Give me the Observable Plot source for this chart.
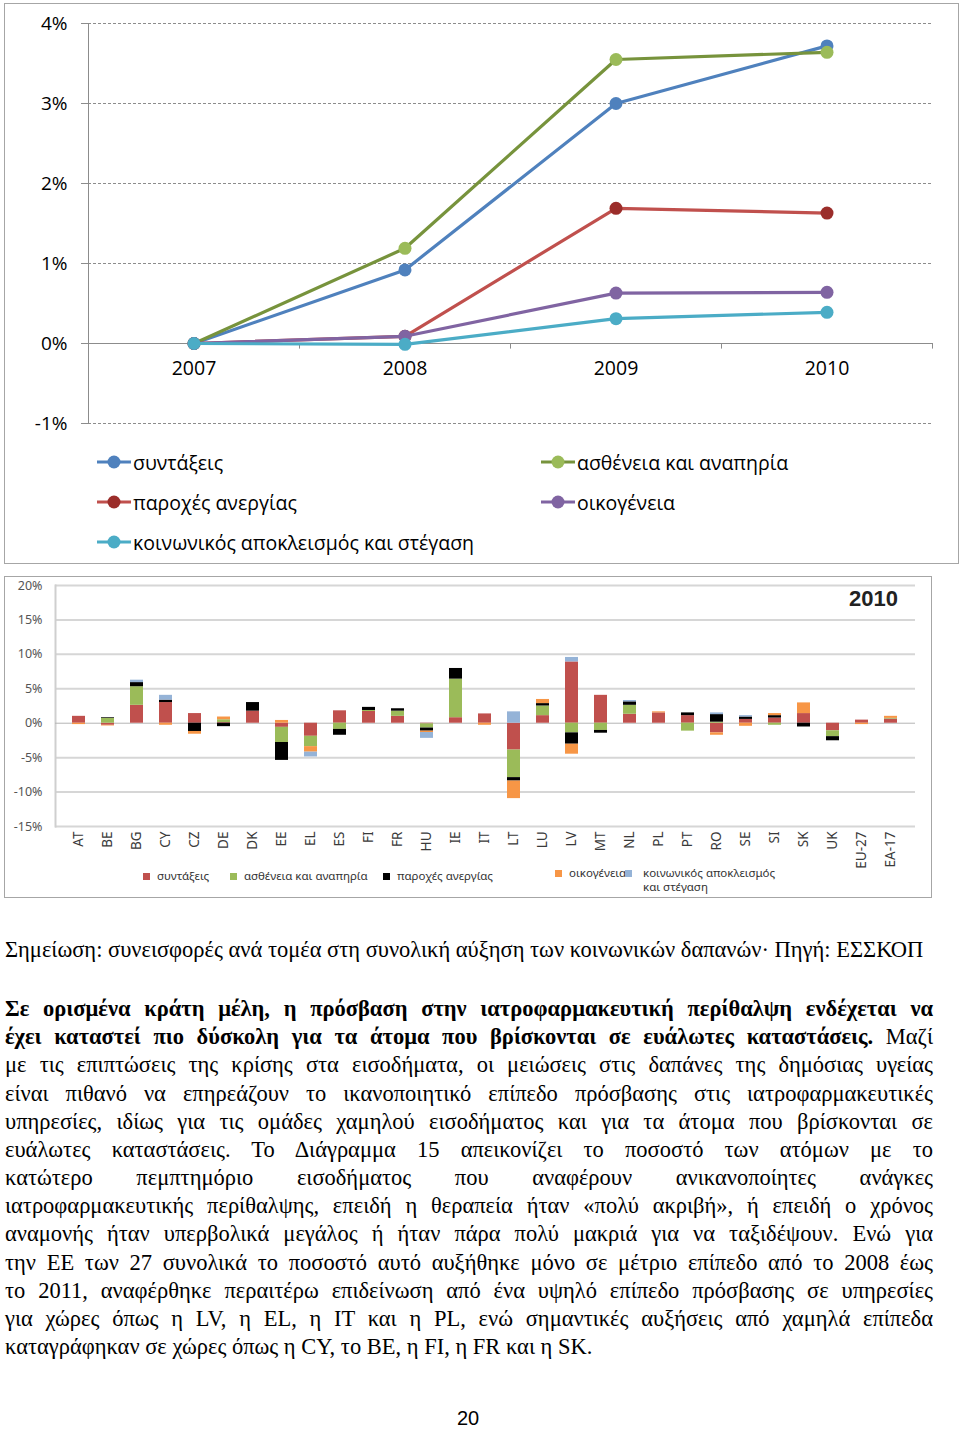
<!DOCTYPE html>
<html><head><meta charset="utf-8">
<script src="https://cdn.jsdelivr.net/npm/d3@7"></script>
<script src="https://cdn.jsdelivr.net/npm/@observablehq/plot@0.6"></script>
<style>
body{margin:0;background:#fff;}
#page{position:relative;width:960px;height:1432px;overflow:hidden;font-family:"Open Sans",sans-serif;color:#000;}
.abs{position:absolute;}
.box{position:absolute;border:1.5px solid #a6a6a6;box-sizing:border-box;}
.leg1{position:absolute;display:flex;align-items:center;font-size:19.5px;white-space:nowrap;}
.leg2{position:absolute;display:flex;align-items:flex-start;font-size:11.5px;color:#333;font-family:"Noto Sans",sans-serif;line-height:14px;}
.leg2 span.sw{display:inline-block;width:7px;height:7px;margin:4px 7px 0 0;}
.tl{position:absolute;left:5px;width:928px;font-family:"Liberation Serif","Times New Roman",serif;font-size:22.5px;line-height:28.2px;text-align:justify;text-align-last:justify;}
.tl.last{text-align-last:left;}
</style></head><body><div id="page">
<div class="box" style="left:4px;top:3px;width:955px;height:561px;"></div>
<div class="box" style="left:4px;top:576px;width:928px;height:322px;"></div>
<div id="chart1" class="abs" style="left:0;top:0;"></div>
<div id="legend1"></div>
<div id="chart2" class="abs" style="left:0;top:576px;"></div>
<div class="abs" style="left:849px;top:586px;font-family:'Liberation Sans',sans-serif;font-weight:bold;font-size:22px;color:#222;">2010</div>
<div id="legend2"></div>
<div id="note" class="abs" style="left:5px;top:937px;font-family:'Liberation Serif',serif;font-size:22.5px;white-space:nowrap;"></div>
<div id="text"></div>
<div class="abs" style="left:457px;top:1407px;font-family:'Liberation Sans Narrow','Liberation Sans',sans-serif;font-size:20px;">20</div>
</div>
<script>
// ---------- Chart 1 data ----------
const years = [2007, 2008, 2009, 2010];
const seriesNames = ["συντάξεις", "ασθένεια και αναπηρία", "παροχές ανεργίας", "οικογένεια", "κοινωνικός αποκλεισμός και στέγαση"];
const pensions     = [0, 0.92, 3.00, 3.72];
const sickness     = [0, 1.19, 3.55, 3.64];
const unemployment = [0, 0.09, 1.69, 1.63];
const family       = [0, 0.09, 0.63, 0.64];
const exclusion    = [0, -0.01, 0.31, 0.39];
const lineColors   = ["#4F81BD", "#77933C", "#C0504D", "#8064A2", "#4BACC6"];
const markerColors = ["#4F81BD", "#9BBB59", "#9B2D2A", "#8064A2", "#4BACC6"];
const yTicks = [-1, 0, 1, 2, 3, 4];
const yearBounds = [2007.5, 2008.5, 2009.5, 2010.5];

const allValues = [pensions, sickness, unemployment, family, exclusion];
const seriesList = seriesNames.map((name, i) => ({
  name, line: lineColors[i], marker: markerColors[i],
  rows: years.map((year, j) => ({year, value: allValues[i][j], series: name, line: lineColors[i], marker: markerColors[i]}))
}));

const seriesMarks = seriesList.flatMap(s => [
  Plot.line(s.rows, {x: "year", y: "value", stroke: "line", strokeWidth: 3.2}),
  Plot.dot(s.rows, {x: "year", y: "value", fill: "marker", r: 6.5})
]);

const chart1 = Plot.plot({
  width: 960, height: 440,
  marginLeft: 88, marginRight: 28, marginTop: 23, marginBottom: 17,
  x: {domain: [2006.5, 2010.5], axis: null},
  y: {domain: [-1, 4], axis: null},
  color: {type: "identity"},
  style: {fontFamily: "Open Sans", fontSize: "19px", background: "transparent", color: "#000"},
  marks: [
    Plot.ruleY(yTicks.filter(d => d !== 0), {stroke: "#8c8c8c", strokeDasharray: "3,2"}),
    Plot.ruleY([0], {stroke: "#8c8c8c"}),
    Plot.ruleX([2006.5], {y1: -1, y2: 4, stroke: "#8c8c8c"}),
    Plot.ruleX(yearBounds, {y1: 0, y2: -0.07, stroke: "#8c8c8c"}),
    Plot.axisY(yTicks, {tickSize: 7, tickPadding: 14, tickFormat: d => d + "%", stroke: "#8c8c8c", fill: "#000", fontSize: 19, label: null}),
    Plot.text(years, {x: d => d, y: 0, dy: 25, text: d => String(d), fontSize: 19.5, fill: "#000"}),
    ...seriesMarks
  ]
});
document.getElementById("chart1").append(chart1);

// legend 1
const legendPos = [[97, 462], [541, 462], [97, 502], [541, 502], [97, 542]];
const leg1 = document.getElementById("legend1");
seriesList.forEach((s, i) => {
  const [lx, ly] = legendPos[i];
  const d = document.createElement("div");
  d.className = "leg1";
  d.style.left = lx + "px"; d.style.top = (ly - 14) + "px"; d.style.height = "28px";
  d.innerHTML = `<svg width="36" height="14" style="margin-right:0px"><line x1="0" y1="7" x2="34" y2="7" stroke="${s.line}" stroke-width="3.2"/><circle cx="17" cy="7" r="6.5" fill="${s.marker}"/></svg><span>${s.name}</span>`;
  leg1.append(d);
});

// ---------- Chart 2 data (2010 contributions by country) ----------
const countries = ["AT","BE","BG","CY","CZ","DE","DK","EE","EL","ES","FI","FR","HU","IE","IT","LT","LU","LV","MT","NL","PL","PT","RO","SE","SI","SK","UK","EU-27","EA-17"];
const barPensions     = [1.0, -0.3, 2.6, 3.0, 1.4, 0.1, 1.75, -0.6, -1.9, 1.8, 1.7, 1.0, -0.1, 0.8, 1.35, -3.9, 1.1, 8.9, 4.05, 1.3, 1.5, 1.1, -1.4, 0.55, 0.75, 1.4, -1.1, 0.45, 0.6];
const barSickness     = [0, 0.7, 2.7, 0, 0, 0.4, 0, -2.2, -1.5, -0.9, 0.15, 0.75, -0.6, 5.6, 0, -4.0, 1.4, -1.4, -1.05, 1.3, 0, -1.15, 0.15, 0, -0.3, 0, -0.85, 0, 0.1];
const barUnemployment = [0, 0.1, 0.6, 0.35, -1.2, -0.5, 1.25, -2.6, 0, -0.85, 0.45, 0.35, -0.45, 1.55, 0, -0.5, 0.35, -1.65, -0.4, 0.5, 0, 0.4, 1.1, 0.35, 0.35, -0.55, -0.6, 0, 0];
const barFamily       = [-0.2, -0.1, 0, -0.3, -0.4, 0.4, 0, 0.4, -0.8, 0, 0, 0, -0.2, 0, -0.3, -2.55, 0.6, -1.45, 0, 0, 0.15, 0, -0.35, -0.45, 0.3, 1.55, 0, -0.2, 0.3];
const barExclusion    = [0, 0, 0.35, 0.7, 0, 0, 0, 0, -0.7, 0, 0, 0, -0.85, 0, 0, 1.65, 0, 0.65, 0, 0.2, 0, 0, 0.25, 0.2, 0, 0, 0, 0, 0];
const barColors = ["#C0504D", "#9BBB59", "#000000", "#F79646", "#95B3D7"];
const barYTicks = [-15, -10, -5, 0, 5, 10, 15, 20];
const barValues = [barPensions, barSickness, barUnemployment, barFamily, barExclusion];

const barRows = [];
countries.forEach((c, j) => seriesNames.forEach((s, i) => barRows.push({country: c, series: s, value: barValues[i][j]})));

const chart2 = Plot.plot({
  width: 930, height: 321,
  marginLeft: 55, marginRight: 15, marginTop: 9, marginBottom: 71,
  x: {domain: countries, padding: 0.55, label: null},
  y: {domain: [-15, 20], label: null},
  color: {domain: seriesNames, range: barColors},
  style: {fontFamily: "Noto Sans", background: "transparent"},
  marks: [
    Plot.ruleY(barYTicks.filter(d => d !== 0), {stroke: "#d6d6d6", strokeWidth: 2}),
    Plot.frame({anchor: "left", stroke: "#cfcfcf", strokeWidth: 2}),
    Plot.axisY(barYTicks, {tickSize: 0, tickPadding: 13, tickFormat: d => d + "%", fontSize: 12.5, fill: "#555", label: null}),
    Plot.axisX({tickRotate: -90, tickSize: 0, tickPadding: 5, fontSize: 13.5, fill: "#3a3a3a", label: null}),
    Plot.ruleY([0], {stroke: "#b5b5b5"}),
    Plot.barY(barRows, {x: "country", y: "value", fill: "series"})
  ]
});
document.getElementById("chart2").append(chart2);

// legend 2
const leg2Pos = [[143, 869], [230, 869], [383, 869], [555, 866], [625, 866]];
const leg2Labels = ["συντάξεις", "ασθένεια και αναπηρία", "παροχές ανεργίας", "οικογένεια", "κοινωνικός αποκλεισμός<br>και στέγαση"];
const leg2 = document.getElementById("legend2");
leg2Labels.forEach((lab, i) => {
  const d = document.createElement("div");
  d.className = "leg2";
  d.style.left = leg2Pos[i][0] + "px"; d.style.top = leg2Pos[i][1] + "px";
  d.innerHTML = `<span class="sw" style="background:${barColors[i]}"></span><span style="margin-left:${i===4?4:0}px">${lab}</span>`;
  leg2.append(d);
});

// ---------- text ----------
document.getElementById("note").textContent = "Σημείωση: συνεισφορές ανά τομέα στη συνολική αύξηση των κοινωνικών δαπανών· Πηγή: ΕΣΣΚΟΠ";
const textLines = [
  "<b>Σε ορισμένα κράτη μέλη, η πρόσβαση στην ιατροφαρμακευτική περίθαλψη ενδέχεται να</b>",
  "<b>έχει καταστεί πιο δύσκολη για τα άτομα που βρίσκονται σε ευάλωτες καταστάσεις.</b> Μαζί",
  "με τις επιπτώσεις της κρίσης στα εισοδήματα, οι μειώσεις στις δαπάνες της δημόσιας υγείας",
  "είναι πιθανό να επηρεάζουν το ικανοποιητικό επίπεδο πρόσβασης στις ιατροφαρμακευτικές",
  "υπηρεσίες, ιδίως για τις ομάδες χαμηλού εισοδήματος και για τα άτομα που βρίσκονται σε",
  "ευάλωτες καταστάσεις. Το Διάγραμμα 15 απεικονίζει το ποσοστό των ατόμων με το",
  "κατώτερο πεμπτημόριο εισοδήματος που αναφέρουν ανικανοποίητες ανάγκες",
  "ιατροφαρμακευτικής περίθαλψης, επειδή η θεραπεία ήταν «πολύ ακριβή», ή επειδή ο χρόνος",
  "αναμονής ήταν υπερβολικά μεγάλος ή ήταν πάρα πολύ μακριά για να ταξιδέψουν. Ενώ για",
  "την ΕΕ των 27 συνολικά το ποσοστό αυτό αυξήθηκε μόνο σε μέτριο επίπεδο από το 2008 έως",
  "το 2011, αναφέρθηκε περαιτέρω επιδείνωση από ένα υψηλό επίπεδο πρόσβασης σε υπηρεσίες",
  "για χώρες όπως η LV, η EL, η IT και η PL, ενώ σημαντικές αυξήσεις από χαμηλά επίπεδα",
  "καταγράφηκαν σε χώρες όπως η CY, το BE, η FI, η FR και η SK."
];
const textBox = document.getElementById("text");
textLines.forEach((t, i) => {
  const d = document.createElement("div");
  d.className = "tl" + (i === textLines.length - 1 ? " last" : "");
  d.style.top = (995 + i * 28.17) + "px";
  d.innerHTML = t;
  textBox.append(d);
  let fs = 22.5;
  while (d.offsetHeight > 30 && fs > 16) { fs -= 0.25; d.style.fontSize = fs + "px"; }
});
</script>
</body></html>
